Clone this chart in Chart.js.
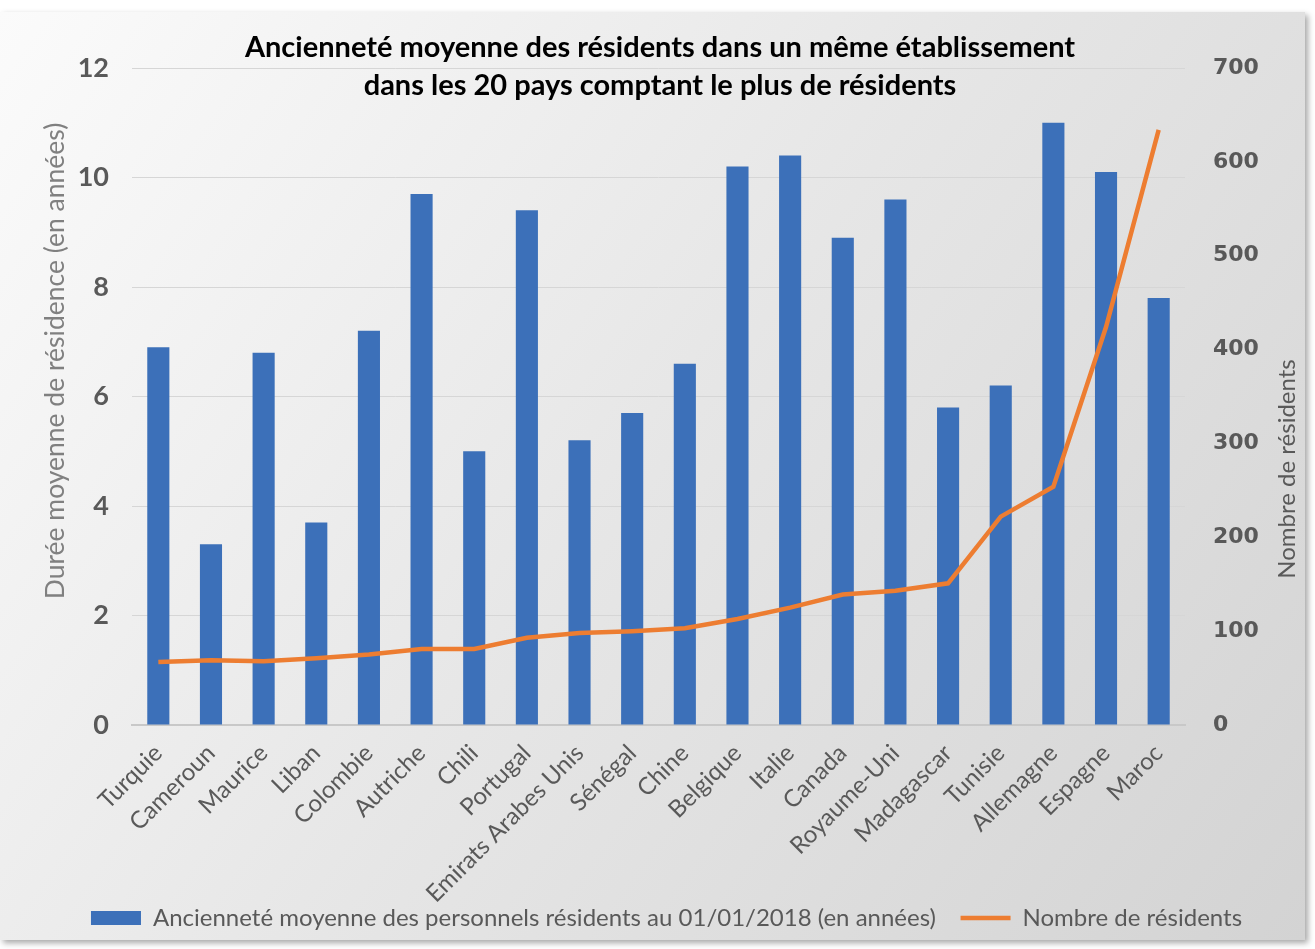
<!DOCTYPE html>
<html>
<head>
<meta charset="utf-8">
<script src="https://cdn.jsdelivr.net/npm/chart.js@4.4.0/dist/chart.umd.min.js"></script>
<style>
    body { margin: 0; background: #ffffff; }
    #wrap { position: absolute; left: 0; top: 12px; width: 1305px; height: 928px; box-shadow: 3px 3px 6px rgba(0,0,0,0.35); }
</style>
</head>
<body>
<div id="wrap"><canvas id="myChart" width="1305" height="928"></canvas></div>
<script>
const pays = ['Turquie', 'Cameroun', 'Maurice', 'Liban', 'Colombie', 'Autriche', 'Chili', 'Portugal',
    'Emirats Arabes Unis', 'Sénégal', 'Chine', 'Belgique', 'Italie', 'Canada', 'Royaume-Uni',
    'Madagascar', 'Tunisie', 'Allemagne', 'Espagne', 'Maroc']
const anciennete = [6.9, 3.3, 6.8, 3.7, 7.2, 9.7, 5.0, 9.4, 5.2, 5.7, 6.6, 10.2, 10.4, 8.9, 9.6, 5.8, 6.2, 11.0, 10.1, 7.8]
const nbResidents = [67, 69, 68, 71, 75, 81, 81, 93, 98, 100, 103, 113, 125, 139, 143, 151, 222, 254, 424, 634]
const ticksGauche = [0, 2, 4, 6, 8, 10, 12]
const ticksDroite = [0, 100, 200, 300, 400, 500, 600, 700]
const titre = ['Ancienneté moyenne des résidents dans un même établissement', 'dans les 20 pays comptant le plus de résidents']
const titreGauche = 'Durée moyenne de résidence (en années)'
const titreDroite = 'Nombre de résidents'

const grisTexte = '#595959'

// fond dégradé gris, titre et titres des axes dessinés à la main
const fondPlugin = {
    id: 'fond',
    beforeDraw: chart => {
        const ctx = chart.ctx
        const g = ctx.createLinearGradient(0, 0, chart.width, chart.height)
        g.addColorStop(0, '#fbfbfb')
        g.addColorStop(0.5, '#e6e6e6')
        g.addColorStop(1, '#d3d3d3')
        ctx.save()
        ctx.fillStyle = g
        ctx.fillRect(0, 0, chart.width, chart.height)
        ctx.restore()
    },
    afterDraw: chart => {
        const ctx = chart.ctx
        ctx.save()
        ctx.font = 'bold 29px Lato'
        ctx.fillStyle = '#000000'
        ctx.textAlign = 'center'
        ctx.textBaseline = 'middle'
        ctx.fillText(titre[0], 660, 36)
        ctx.fillText(titre[1], 660, 74)

        ctx.font = '26.5px Lato'
        ctx.fillStyle = '#808080'
        ctx.translate(55, 349)
        ctx.rotate(-Math.PI / 2)
        ctx.fillText(titreGauche, 0, 0)
        ctx.restore()

        ctx.save()
        ctx.font = '24px Lato'
        ctx.fillStyle = grisTexte
        ctx.textAlign = 'center'
        ctx.textBaseline = 'middle'
        ctx.translate(1287, 457)
        ctx.rotate(-Math.PI / 2)
        ctx.fillText(titreDroite, 0, 0)
        ctx.restore()
    }
}

let ctx = document.querySelector('#myChart').getContext('2d');

let myChart = new Chart(ctx, {
    type: 'bar',
    data: {
        labels: pays,
        datasets: [{
            type: 'line',
            label: 'Nombre de résidents',
            data: nbResidents,
            yAxisID: 'y2',
            borderColor: '#ED7D31',
            backgroundColor: '#ED7D31',
            borderWidth: 4.5,
            pointRadius: 0,
            tension: 0,
            pointStyle: 'line',
            order: 0
        }, {
            label: 'Ancienneté moyenne des personnels résidents au 01/01/2018 (en années)',
            data: anciennete,
            yAxisID: 'y',
            backgroundColor: '#3C70B9',
            barPercentage: 0.42,
            categoryPercentage: 1,
            pointStyle: 'rect',
            order: 1
        }]
    },
    plugins: [fondPlugin],
    options: {
        responsive: false,
        animation: false,
        layout: { padding: { top: 56, left: 28, right: 0, bottom: 0 } },
        plugins: {
            legend: {
                position: 'bottom',
                reverse: true,
                labels: {
                    font: { family: 'Lato', size: 24 },
                    color: grisTexte,
                    usePointStyle: true,
                    pointStyleWidth: 50,
                    boxHeight: 14,
                    padding: 0,
                    // espaces pour écarter les deux entrées
                    generateLabels: chart => {
                        const items = Chart.defaults.plugins.legend.labels.generateLabels(chart)
                        items.forEach(it => { if (it.datasetIndex === 1) it.text = it.text + '    ' })
                        return items
                    }
                }
            },
            tooltip: { enabled: false }
        },
        scales: {
            x: {
                afterFit: axis => { axis.height = 181 },
                grid: { display: false },
                border: { color: '#c8c8c8', width: 2 },
                ticks: {
                    color: grisTexte,
                    font: { family: 'Lato', size: 24 },
                    maxRotation: 45,
                    minRotation: 45,
                    padding: 6
                }
            },
            y: {
                position: 'left',
                min: 0,
                max: 12,
                afterFit: axis => { axis.width = 104 },
                afterBuildTicks: axis => { axis.ticks = ticksGauche.map(v => ({ value: v })) },
                grid: { color: '#d6d6d6', lineWidth: 1, drawTicks: false },
                border: { display: false },
                ticks: {
                    color: grisTexte,
                    font: { family: 'Lato', size: 27, weight: 'bold' },
                    padding: 23
                }
            },
            y2: {
                position: 'right',
                min: 0,
                max: 700,
                afterFit: axis => { axis.width = 120 },
                afterBuildTicks: axis => { axis.ticks = ticksDroite.map(v => ({ value: v })) },
                grid: { display: false, drawTicks: false },
                border: { display: false },
                ticks: {
                    color: grisTexte,
                    font: { family: 'DejaVu Sans', size: 22, weight: 'bold' },
                    padding: 28
                }
            }
        }
    }
});
</script>
</body>
</html>
